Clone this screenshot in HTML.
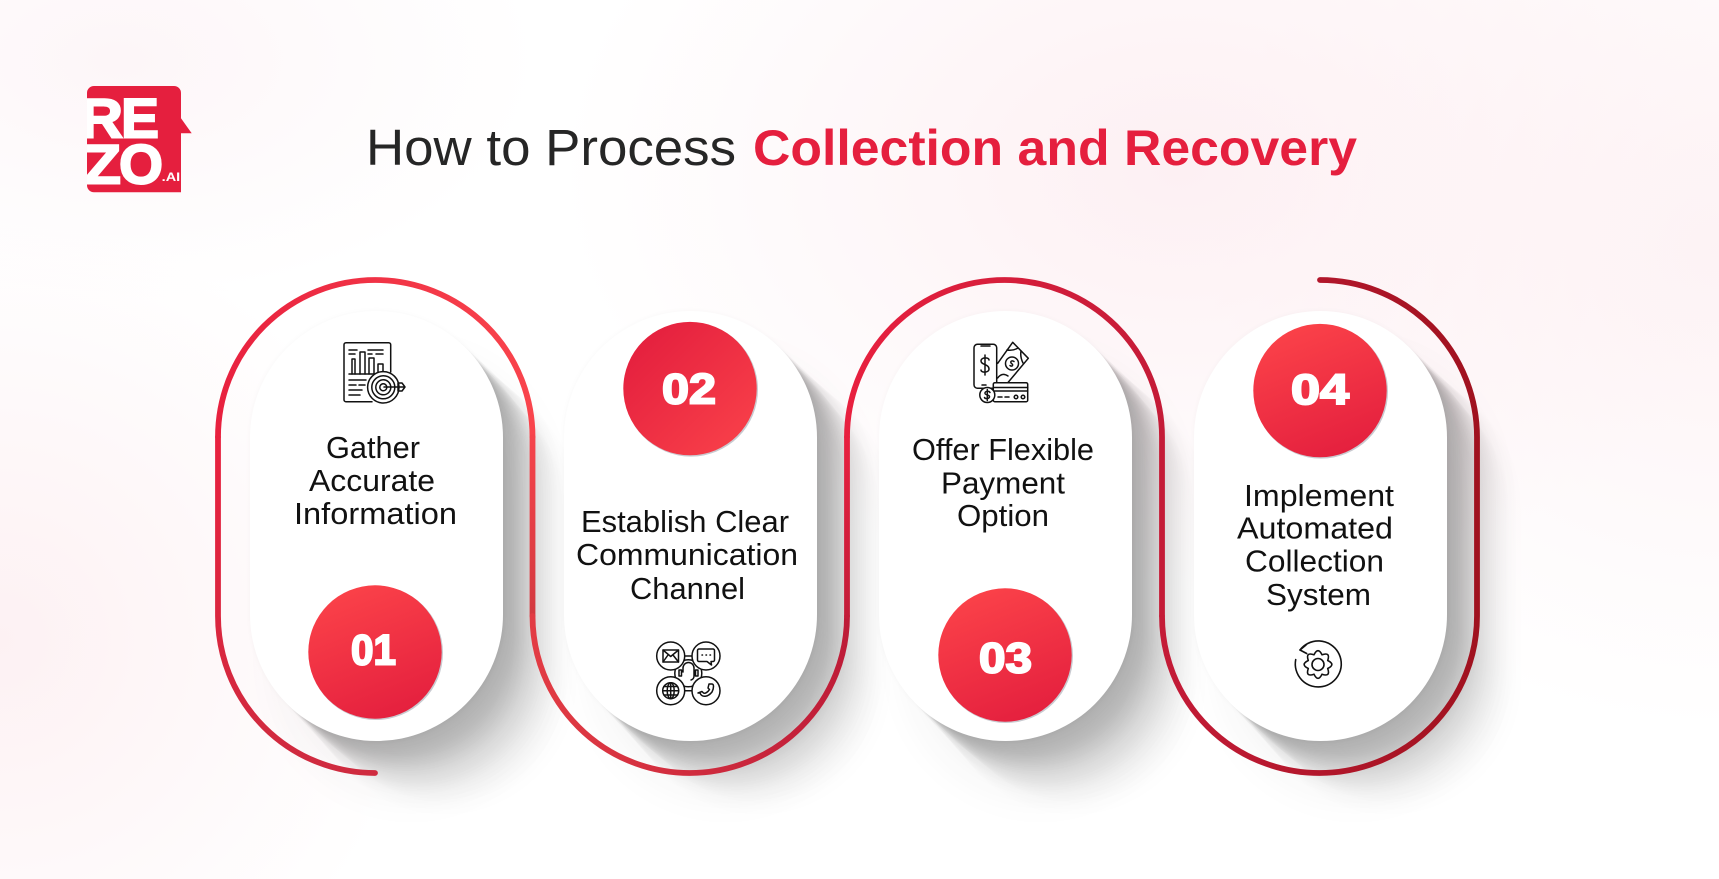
<!DOCTYPE html>
<html lang="en"><head><meta charset="utf-8"><title>How to Process Collection and Recovery</title>
<style>
html,body{margin:0;padding:0;width:1719px;height:879px;overflow:hidden}
body{position:relative;background:
radial-gradient(ellipse 620px 420px at 1180px 170px,#fdf0f3 0%,rgba(253,240,243,0) 100%),
radial-gradient(ellipse 520px 480px at 1719px 250px,#fdf3f5 0%,rgba(253,243,245,0) 100%),
radial-gradient(ellipse 420px 420px at 0px 640px,#fdf1f3 0%,rgba(253,241,243,0) 100%),
radial-gradient(ellipse 420px 240px at 120px 60px,#fdf6f8 0%,rgba(253,246,248,0) 100%),
#fff;font-family:"Liberation Sans",sans-serif}
.p{position:absolute;top:311px;width:253px;height:430px;border-radius:126.5px;background:#fff;
box-shadow:0 0 6px rgba(0,0,0,.03),
2px 2px 2px rgba(45,45,52,.017),4px 4px 2px rgba(45,45,52,.017),6px 6px 2px rgba(45,45,52,.017),8px 8px 2px rgba(45,45,52,.017),10px 10px 3px rgba(45,45,52,.017),
12px 12px 3px rgba(45,45,52,.017),14px 14px 3px rgba(45,45,52,.017),16px 16px 3px rgba(45,45,52,.017),18px 18px 4px rgba(45,45,52,.016),20px 20px 4px rgba(45,45,52,.016),
22px 22px 4px rgba(45,45,52,.015),24px 24px 5px rgba(45,45,52,.015),26px 26px 5px rgba(45,45,52,.015),28px 28px 6px rgba(45,45,52,.014),30px 30px 6px rgba(45,45,52,.014),
32px 32px 7px rgba(45,45,52,.013),34px 34px 8px rgba(45,45,52,.013),36px 36px 9px rgba(45,45,52,.012),38px 38px 10px rgba(45,45,52,.012),40px 40px 11px rgba(45,45,52,.011),
42px 42px 12px rgba(45,45,52,.011),44px 44px 13px rgba(45,45,52,.011),46px 46px 14px rgba(45,45,52,.011),48px 48px 15px rgba(45,45,52,.01),50px 50px 16px rgba(45,45,52,.01),
53px 53px 18px rgba(45,45,52,.01),56px 56px 20px rgba(45,45,52,.01),60px 60px 22px rgba(45,45,52,.01),64px 64px 24px rgba(45,45,52,.01),68px 68px 28px rgba(45,45,52,.01),
35px 50px 45px rgba(45,45,52,.06)}
svg{position:absolute;left:0;top:0}
.t{font-family:"Liberation Sans",sans-serif;font-size:31px;fill:#111}
.n{font-family:"Liberation Sans",sans-serif;font-weight:700;font-size:43px;fill:#fff;stroke:#fff;stroke-width:2px;paint-order:stroke}
.i{fill:none;stroke:#111;stroke-width:1.5;stroke-linecap:round;stroke-linejoin:round}
.l{font-family:"Liberation Sans",sans-serif;font-weight:700;font-size:56px;fill:#fff;stroke:#fff;stroke-width:2px}
</style></head><body>
<div class="p" style="left:250px"></div>
<div class="p" style="left:564px"></div>
<div class="p" style="left:879px"></div>
<div class="p" style="left:1194px"></div>
<svg width="1719" height="879" viewBox="0 0 1719 879" xmlns="http://www.w3.org/2000/svg">
<defs>
<linearGradient id="a1" gradientUnits="userSpaceOnUse" x1="0" y1="437" x2="0" y2="773"><stop offset="0" stop-color="#e8213f"/><stop offset="1" stop-color="#cf2b3f"/></linearGradient>
<linearGradient id="a2" gradientUnits="userSpaceOnUse" x1="218" y1="0" x2="532" y2="0"><stop offset="0" stop-color="#e8213f"/><stop offset="1" stop-color="#f9444c"/></linearGradient>
<linearGradient id="a3" gradientUnits="userSpaceOnUse" x1="0" y1="437" x2="0" y2="616"><stop offset="0" stop-color="#f5434b"/><stop offset="1" stop-color="#d33a40"/></linearGradient>
<linearGradient id="a4" gradientUnits="userSpaceOnUse" x1="532" y1="0" x2="847" y2="0"><stop offset="0" stop-color="#e23c44"/><stop offset="1" stop-color="#be1c38"/></linearGradient>
<linearGradient id="a5" gradientUnits="userSpaceOnUse" x1="0" y1="437" x2="0" y2="616"><stop offset="0" stop-color="#e8203f"/><stop offset="1" stop-color="#c31d39"/></linearGradient>
<linearGradient id="a6" gradientUnits="userSpaceOnUse" x1="847" y1="0" x2="1162" y2="0"><stop offset="0" stop-color="#e8203f"/><stop offset="1" stop-color="#c41b37"/></linearGradient>
<linearGradient id="a7" gradientUnits="userSpaceOnUse" x1="1162" y1="0" x2="1477" y2="0"><stop offset="0" stop-color="#c41b37"/><stop offset="1" stop-color="#a0121f"/></linearGradient>
<linearGradient id="c1" x1=".3" y1="0" x2=".7" y2="1"><stop offset="0" stop-color="#fb4249"/><stop offset="1" stop-color="#e41f3e"/></linearGradient>
<linearGradient id="c2" x1="0" y1="0" x2="1" y2="1"><stop offset=".1" stop-color="#e41f3e"/><stop offset=".9" stop-color="#f83f49"/></linearGradient>
<clipPath id="lg"><path d="M94 86H174a7 7 0 0 1 7 7V118.3L191.700 133.300H181V192.300H94a7 7 0 0 1-7-7V93a7 7 0 0 1 7-7Z"/></clipPath>
</defs>

<!-- connector -->
<g fill="none" stroke-width="5.800" stroke-linecap="round">
<path stroke="url(#a1)" d="M375 773A157 157 0 0 1 218 616V437"/>
<path stroke="url(#a2)" d="M218 437A157.250 157 0 0 1 532.500 437"/>
<path stroke="url(#a3)" d="M532.500 437V616"/>
<path stroke="url(#a4)" d="M532.500 616A157.250 157 0 0 0 847 616"/>
<path stroke="url(#a5)" d="M847 616V437"/>
<path stroke="url(#a6)" d="M847 437A157.500 157 0 0 1 1162 437V616"/>
<path stroke="url(#a7)" d="M1162 616A157.500 157 0 0 0 1477 616V437A157 157 0 0 0 1320 280"/>
</g>

<!-- logo -->
<path d="M94 86H174a7 7 0 0 1 7 7V118.300L191.700 133.300H181V192.300H94a7 7 0 0 1-7-7V93a7 7 0 0 1 7-7Z" fill="#e51f3e"/>
<g clip-path="url(#lg)">
<text class="l" x="80" y="137.300" textLength="43" lengthAdjust="spacingAndGlyphs">R</text>
<text class="l" x="121" y="137.300" textLength="38" lengthAdjust="spacingAndGlyphs">E</text>
<text class="l" x="84" y="183.300" textLength="37" lengthAdjust="spacingAndGlyphs">Z</text>
<text class="l" x="119" y="183.300" textLength="44" lengthAdjust="spacingAndGlyphs">O</text>
<text x="161.700" y="181" textLength="18.500" lengthAdjust="spacingAndGlyphs" style="font-family:'Liberation Sans',sans-serif;font-weight:700;font-size:11.500px;fill:#fff">.AI</text>
</g>

<!-- title -->
<text x="366" y="165" textLength="370" lengthAdjust="spacingAndGlyphs" style="font-size:51px;fill:#262626;font-family:'Liberation Sans',sans-serif">How to Process</text>
<text x="753" y="165" textLength="604" lengthAdjust="spacingAndGlyphs" style="font-size:50px;font-weight:700;fill:#e51f3e;font-family:'Liberation Sans',sans-serif">Collection and Recovery</text>

<!-- circles -->
<circle cx="376" cy="653" r="67" fill="#c9cad0"/><circle cx="375" cy="652" r="66.700" fill="url(#c1)"/>
<circle cx="691" cy="389.600" r="67" fill="#c9cad0"/><circle cx="690" cy="388.600" r="66.700" fill="url(#c2)"/>
<circle cx="1006" cy="656" r="67" fill="#c9cad0"/><circle cx="1005" cy="655" r="66.700" fill="url(#c1)"/>
<circle cx="1321" cy="391.600" r="67" fill="#c9cad0"/><circle cx="1320" cy="390.600" r="66.700" fill="url(#c1)"/>

<text class="n" x="351" y="664.700" textLength="45" lengthAdjust="spacingAndGlyphs">01</text>
<text class="n" x="662" y="403.700" textLength="54" lengthAdjust="spacingAndGlyphs">02</text>
<text class="n" x="979" y="672.400" textLength="53" lengthAdjust="spacingAndGlyphs">03</text>
<text class="n" x="1291" y="404" textLength="58" lengthAdjust="spacingAndGlyphs">04</text>

<!-- labels -->
<g>
<text class="t" x="326" y="458" textLength="94" lengthAdjust="spacingAndGlyphs">Gather</text>
<text class="t" x="309" y="491.200" textLength="126" lengthAdjust="spacingAndGlyphs">Accurate</text>
<text class="t" x="294" y="524.200" textLength="163" lengthAdjust="spacingAndGlyphs">Information</text>
<text class="t" x="581" y="532.200" textLength="208" lengthAdjust="spacingAndGlyphs">Establish Clear</text>
<text class="t" x="576" y="565.200" textLength="222" lengthAdjust="spacingAndGlyphs">Communication</text>
<text class="t" x="630" y="599" textLength="115" lengthAdjust="spacingAndGlyphs">Channel</text>
<text class="t" x="912" y="459.800" textLength="182" lengthAdjust="spacingAndGlyphs">Offer Flexible</text>
<text class="t" x="941" y="493.500" textLength="124" lengthAdjust="spacingAndGlyphs">Payment</text>
<text class="t" x="957" y="526.200" textLength="92" lengthAdjust="spacingAndGlyphs">Option</text>
<text class="t" x="1244" y="506" textLength="150" lengthAdjust="spacingAndGlyphs">Implement</text>
<text class="t" x="1237" y="538.400" textLength="156" lengthAdjust="spacingAndGlyphs">Automated</text>
<text class="t" x="1245" y="571.600" textLength="139" lengthAdjust="spacingAndGlyphs">Collection</text>
<text class="t" x="1266" y="605" textLength="105" lengthAdjust="spacingAndGlyphs">System</text>
</g>

<!-- icon 1: report + target -->
<g class="i">
<path d="M372 401.700H346a2 2 0 0 1-2-2V344.700a2 2 0 0 1 2-2H388.700a2 2 0 0 1 2 2V372"/>
<path d="M349 350H357M349 354H355M368 350H383M368 354H372M376 354H383M349 374H386"/>
<path d="M352 374V359H355V374M360 374V352H365V374M369 374V358H374V374M378 374V364H383V374"/>
<path d="M349 380H366M349 385H356M359 385H365M349 390H362M349 395H360"/>
<circle cx="383.300" cy="387.300" r="15.700" fill="#fff"/><circle cx="383.300" cy="387.300" r="11.500"/><circle cx="383.300" cy="387.300" r="7.500"/><circle cx="383.300" cy="387.300" r="3.500"/>
<path d="M384 387H404M398 383L402 383L405 387L402 391L398 391Z"/>
</g>

<!-- icon 2: channels -->
<g class="i">
<circle cx="688.300" cy="673.300" r="13.500"/>
<path d="M684.500 656H692M684.500 690.700H692"/>
<circle cx="670.700" cy="656" r="14" fill="#fff"/><circle cx="706" cy="656" r="14" fill="#fff"/><circle cx="670.700" cy="690.700" r="14" fill="#fff"/><circle cx="706" cy="690.700" r="14" fill="#fff"/>
<rect x="663" y="650" width="15.500" height="12"/><path d="M663 650L670.700 656.500L678.500 650M663 662L668 655M678.500 662L673 655"/>
<path d="M699 649H713a1.500 1.500 0 0 1 1.500 1.500V660a1.500 1.500 0 0 1-1.500 1.500H711L711.500 665L707 661.500H699a1.500 1.500 0 0 1-1.500-1.500V650.500a1.500 1.500 0 0 1 1.500-1.500ZM702 655H702.500M706 655H706.500M710 655H710.500"/>
<circle cx="670.700" cy="690.700" r="8"/><ellipse cx="670.700" cy="690.700" rx="3.500" ry="8"/><path d="M662.700 690.700H678.700M664 686.500H677.500M664 695H677.500M670.700 682.700V698.700"/>
<path d="M700 693C702 698 708 697 712 692C714 688 714 684 712 684L709 684L708 688L709.500 689.500C708 692 705 694 703.500 693L702 691.500L698 693Z"/>
<path d="M683 672V668a5.500 5.500 0 0 1 11 0V676a4 4 0 0 1-3 4M679 670h2.500v6H679ZM695.500 670H698v6h-2.500Z"/>
</g>

<!-- icon 3: payment -->
<g class="i">
<rect x="974" y="344.300" width="22.700" height="44" rx="3.500"/><path d="M981 346H990M982 385H986"/>
<path d="M989 360C989 357 981 357 981 361C981 365 989 364 989 369C989 373 981 373 981 370M985 355V375"/>
<path d="M997.700 363.300L1012.700 342.300L1028.300 358.300L1008 382.500"/>
<path d="M1007 350Q1013 351 1018 348M1021 351Q1020 357 1023 363M997.700 378Q1002 372 1008 376"/>
<circle cx="1012" cy="363.500" r="6.500"/><path d="M1014 361.500C1012 360 1009.500 361.500 1011.500 363.500C1014 365 1012 367 1010 365.500"/>
<rect x="993.300" y="382.700" width="34.400" height="19" rx="1.500" fill="#fff"/><path d="M993.300 387.500H1027.700M993.300 391H1027.700M998 397H1002M1005 397H1009"/>
<circle cx="1016" cy="397" r="1.800"/><circle cx="1023" cy="397" r="1.800"/>
<circle cx="987.300" cy="395" r="7.500" fill="#fff"/><path d="M990 392.500C989 390.500 984.500 391 985 393.500C985.500 395.500 990 394.500 989.500 397C989 399 985 399 984.500 397.500M987.300 389.500V400.500"/>
</g>

<!-- icon 4: gear cycle -->
<g class="i" style="stroke-width:1.600">
<path d="M1300 650A23 23 0 1 1 1295.700 659.600"/><path d="M1306 645L1300 650L1306.700 653.500"/>
<path transform="translate(1318 664.500)" d="M-4.020 -9.700Q0 -18 4.020 -9.700Q12.730 -12.730 9.700 -4.020Q18 0 9.700 4.020Q12.730 12.730 4.020 9.700Q0 18 -4.020 9.700Q-12.730 12.730 -9.700 4.020Q-18 0 -9.700 -4.020Q-12.730 -12.730 -4.020 -9.700Z"/>
<circle cx="1318" cy="664.500" r="6"/>
</g>
</svg>
</body></html>
